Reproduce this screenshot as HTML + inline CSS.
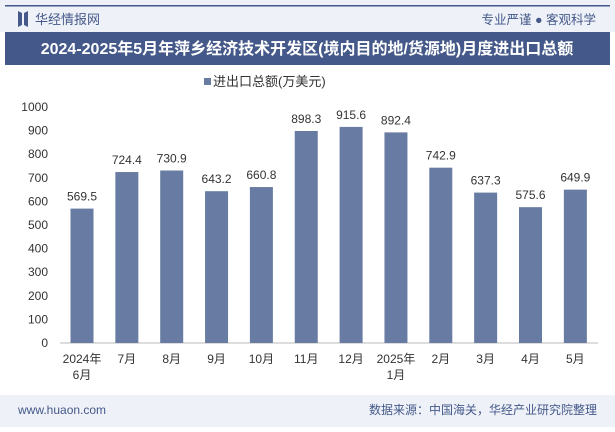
<!DOCTYPE html>
<html><head><meta charset="utf-8"><style>
body{margin:0;width:615px;height:427px;overflow:hidden;background:#fff;font-family:"Liberation Sans","Noto Sans CJK SC",sans-serif;}
</style></head><body>
<svg width="615" height="427" xmlns="http://www.w3.org/2000/svg">
<rect x="0" y="0" width="615" height="32" fill="#eef1f7"/>
<rect x="5" y="5" width="605" height="1.5" fill="#44598a"/>
<path d="M18 11 L22 13 L22 25 L18 27 Z M24 13 L28 11 L28 27 L24 25 Z" fill="#44598a"/>
<text x="35" y="24" font-size="13" fill="#44598a">华经情报网</text>
<text x="596" y="24" font-size="12.5" fill="#44598a" text-anchor="end">专业严谨 ● 客观科学</text>
<rect x="5" y="32" width="605" height="33" fill="#44598a"/>
<text x="307" y="54" font-size="16" font-weight="bold" fill="#fff" text-anchor="middle">2024-2025年5月年萍乡经济技术开发区(境内目的地/货源地)月度进出口总额</text>
<rect x="204" y="78" width="7" height="7" fill="#687ba2"/>
<text x="213" y="86" font-size="13" fill="#333">进出口总额(万美元)</text>
<g id="plot"></g>
<rect x="0" y="395" width="615" height="32" fill="#eef1f7"/>
<text x="18" y="414" font-size="12" fill="#44598a">www.huaon.com</text>
<text x="597" y="414" font-size="12" fill="#44598a" text-anchor="end">数据来源：中国海关，华经产业研究院整理</text>
</svg>
<script>
const categories=["2024年|6月","7月","8月","9月","10月","11月","12月","2025年|1月","2月","3月","4月","5月"];
const values=[569.5,724.4,730.9,643.2,660.8,898.3,915.6,892.4,742.9,637.3,575.6,649.9];
const ticks=[0,100,200,300,400,500,600,700,800,900,1000];
const NS="http://www.w3.org/2000/svg";
const g=document.getElementById("plot");
const y=v=>343-v*0.236;
const x=i=>82+i*44.85;
function mk(t,a,txt){const e=document.createElementNS(NS,t);for(const k in a)e.setAttribute(k,a[k]);if(txt!=null)e.textContent=txt;g.appendChild(e);return e;}
ticks.forEach(t=>{
const e=mk("text",{x:48,y:y(t)+4,"font-size":12,fill:"#333","text-anchor":"end"},t);


});
const ax=mk("line",{x1:60,x2:598,y1:343,y2:343,stroke:"#bbb"});


values.forEach((v,i)=>{
const b=mk("rect",{x:x(i)-11.5,y:y(v),width:23,height:343-y(v),fill:"#687ba2"});


const l=mk("text",{x:x(i),y:y(v)-8,"font-size":12,fill:"#333","text-anchor":"middle"},v.toFixed(1));


const parts=categories[i].split("|");
parts.forEach((p,j)=>{
const c=mk("text",{x:x(i),y:363+j*16,"font-size":12,fill:"#333","text-anchor":"middle"},p);


});
});
</script>
</body></html>
